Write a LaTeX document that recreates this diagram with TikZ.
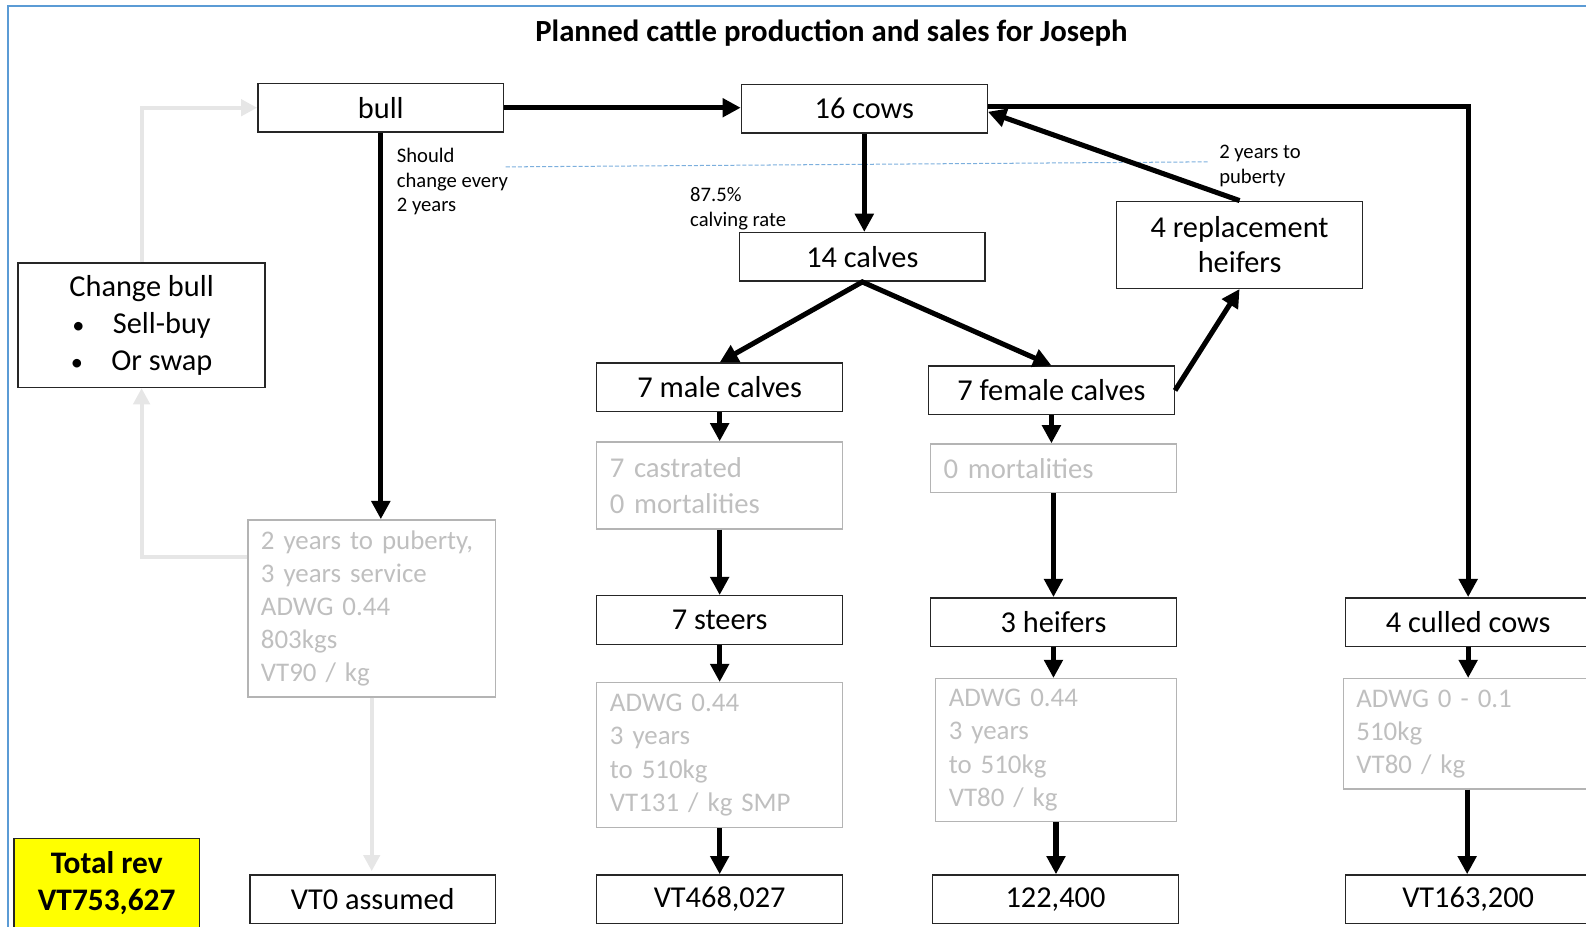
\documentclass[tikz,border=0pt]{standalone}
\usepackage{fontspec}
\setmainfont{Carlito}
\usetikzlibrary{arrows.meta,calc}
\definecolor{frameblue}{HTML}{5B9BD5}
\definecolor{dimtext}{HTML}{BFBFBF}
\definecolor{dimline}{HTML}{B4B4B4}
\definecolor{faint}{HTML}{E6E6E6}
\definecolor{tallyyellow}{HTML}{FFFF00}

\begin{document}
\begin{tikzpicture}[x=0.5pt,y=-0.5pt,
  execute at begin node={\hyphenpenalty=10000\exhyphenpenalty=10000},
  box/.style={draw=black!85, line width=0.7pt, inner sep=0pt,
    minimum width=121.5pt, minimum height=24pt, align=center,
    font=\fontsize{15}{18}\selectfont},
  info/.style={draw=dimline, line width=0.7pt, text=dimtext, align=left,
    inner xsep=6.5pt, inner ysep=0pt,
    font=\fontsize{13.3}{16.4}\selectfont},
  note/.style={inner sep=0pt, align=left, anchor=north west,
    font=\fontsize{10.2}{12.25}\selectfont},
  arr/.style={line width=2.5pt, -{Triangle[length=9pt,width=9pt]}},
  faintarr/.style={line width=2pt, draw=faint, -{Triangle[length=8pt,width=8pt]}}
]
\useasboundingbox (0,0) rectangle (1568,916);

% frame
\draw[frameblue, line width=1pt] (8,1000) -- (8,6) -- (1700,6);

% title
\node[font=\bfseries\fontsize{15.2}{18}\selectfont] (title) at (822,33)
  {Planned cattle production and sales for Joseph};

% herd boxes
\node[box] (bull) at (376.5,106.5) {bull};
\node[box] (cows) at (854.5,107.5) {16 cows};
\node[box] (calves) at (852.5,254) {14 calves};
\node[box, minimum height=43pt, font=\fontsize{15}{17.5}\selectfont] (repl) at (1225.5,242)
  {4 replacement\\heifers};
\node[box] (male) at (711.5,383) {7 male calves};
\node[box] (female) at (1039.5,386) {7 female calves};
\node[box] (steers) at (711.5,613) {7 steers};
\node[box] (heif) at (1041.5,615) {3 heifers};
\node[box] (culled) at (1451.5,615) {4 culled cows};

% detail boxes
\node[info, text width=108.5pt, minimum height=43pt, font=\fontsize{14.2}{18}\selectfont]
  (castr) at (711.5,480) {7 castrated\\0 mortalities};
\node[info, text width=108.5pt, minimum height=24pt, font=\fontsize{14.2}{17}\selectfont]
  (mort) at (1041.5,463) {0 mortalities};
\node[info, text width=108.5pt, minimum height=71.5pt] (steerinfo) at (711.5,746.5)
  {ADWG 0.44\\3 years\\to 510kg\\VT131 / kg SMP};
\node[info, text width=106pt, minimum height=70.5pt] (heifinfo) at (1044,741.5)
  {ADWG 0.44\\3 years\\to 510kg\\VT80 / kg};
\node[info, text width=109.5pt, minimum height=54.5pt] (cullinfo) at (1450.5,725.5)
  {ADWG 0 - 0.1\\510kg\\VT80 / kg};
\node[info, text width=109.5pt, minimum height=87.5pt] (bullinfo) at (367.5,601.5)
  {2 years to puberty,\\3 years service\\ADWG 0.44\\803kgs\\VT90 / kg};

% revenue boxes
\node[box] (vt0) at (368.5,889) {VT0 assumed};
\node[box] (vtsteer) at (711.5,889) {VT468,027};
\node[box] (vtheif) at (1043.5,889) {122,400};
\node[box] (vtcull) at (1451.5,889) {VT163,200};
\node[draw=black!85, fill=tallyyellow, line width=0.7pt, minimum width=91.5pt,
  minimum height=44pt, inner sep=0pt, align=center,
  font=\bfseries\fontsize{15.5}{18}\selectfont] (total) at (105.5,873)
  {Total rev\\VT753,627};

% bull replacement box
\node[box, minimum width=122pt, minimum height=61.5pt, font=\fontsize{15}{18.25}\selectfont]
  (change) at (140,321.5)
  {Change bull\\{\fontsize{12}{12}\selectfont\textbullet}\hspace{14pt}Sell-buy\\{\fontsize{12}{12}\selectfont\textbullet}\hspace{14pt}Or swap};

% notes
\node[note] (bullnote) at (392,146) {Should\\change every\\2 years};
\node[note] (ratenote) at (682,185) {87.5\%\\calving rate};
\node[note] (pubnote) at (1205,143) {2 years to\\puberty};

% dashed guide
\coordinate (dashA) at (500,165);
\coordinate (dashB) at (1195,160);
\draw[frameblue!80, line width=0.5pt, dash pattern=on 2pt off 1pt] (dashA) -- (dashB);

% main flow
\draw[arr] (bull.east) -- (bull.east -| cows.west);
\draw[arr] (cows.south) -- (cows.south |- calves.north);
\draw[line width=2.5pt, line join=miter,
  {Triangle[length=9pt,width=9pt]}-{Triangle[length=9pt,width=9pt]}]
  (male.north) -- (calves.south) -- (female.north);
\draw[arr] (female.east) -- (repl.south);
\draw[arr] (repl.north) -- ([yshift=-1.5pt]cows.east);
\draw[arr] ([yshift=1.25pt]cows.east) -| (culled.north);

% male column
\draw[arr] (male.south) -- (castr.north);
\draw[arr] (castr.south) -- (steers.north);
\draw[arr] (steers.south) -- (steerinfo.north);
\draw[arr] (steerinfo.south) -- (vtsteer.north);

% female column
\draw[arr] (female.south) -- (female.south |- mort.north);
\draw[arr] (mort.south) -- (mort.south |- heif.north);
\draw[arr] (heif.south) -- (heif.south |- heifinfo.north);
\draw[arr] (heifinfo.south) -- (heifinfo.south |- vtheif.north);

% culled column
\draw[arr] (culled.south) -- (culled.south |- cullinfo.north);
\draw[arr] (cullinfo.south) -- (cullinfo.south |- vtcull.north);

% bull column
\draw[arr] (bull.south) -- (bull.south |- bullinfo.north);
\draw[faintarr] (bullinfo.south) -- ([yshift=1.5pt]bullinfo.south |- vt0.north);
\draw[faintarr] ([yshift=-18.5pt]bullinfo.north west) -| (change.south);
\draw[faintarr] (change.north) |- (bull.west);
\end{tikzpicture}
\end{document}
